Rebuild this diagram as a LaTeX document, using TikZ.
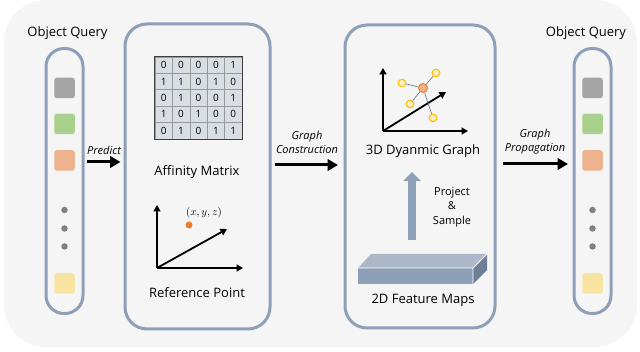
\documentclass[tikz,border=0pt]{standalone}
\usepackage{fontspec}
\setmainfont{Open Sans}
\usepackage{xcolor}
\usepackage{tikz}
\usetikzlibrary{arrows.meta,calc}

\definecolor{bgc}{HTML}{F5F5F5}
\definecolor{pnl}{HTML}{8EA0B8}
\definecolor{qgray}{HTML}{A5A5A5}
\definecolor{qgreen}{HTML}{A9D18E}
\definecolor{qorange}{HTML}{EDB38F}
\definecolor{qyellow}{HTML}{F8E3A0}
\definecolor{cellc}{HTML}{D9DEE4}
\definecolor{ptorange}{HTML}{ED7D31}
\definecolor{nodey}{HTML}{FFC000}
\definecolor{nodeyf}{HTML}{FFF2CC}
\definecolor{slabtopc}{HTML}{ACB8C9}
\definecolor{slabfrontc}{HTML}{8D9FB7}
\definecolor{slabsidec}{HTML}{6E7F96}

\tikzset{
  panel/.style={draw=pnl, line width=3pt, fill=bgc, rounded corners=22pt},
  column/.style={draw=pnl, line width=3pt, fill=bgc, rounded corners=18pt,
    minimum width=37pt, minimum height=265pt},
  qbox/.style={fill=#1, rounded corners=2.5pt, minimum size=20.5pt, inner sep=0pt},
  qdot/.style={fill=black!50, circle, minimum size=6.5pt, inner sep=0pt},
  cell/.style={draw=black!40, fill=cellc, line width=0.6pt, inner sep=0pt,
    minimum width=17.4pt, minimum height=16.4pt, font=\fontsize{10}{10}\selectfont},
  flow/.style={-{Triangle[length=10.5pt,width=11.5pt]}, line width=3pt},
  axis/.style={-{Triangle[length=6.5pt,width=7pt]}, line width=1.8pt},
  lift/.style={-{Triangle[length=9pt,width=17pt]}, line width=7.5pt, draw=pnl},
  gnode/.style={circle, draw=nodey, fill=nodeyf, line width=1.2pt, minimum size=7.5pt, inner sep=0pt},
  lbl/.style={font=\fontsize{13}{15}\selectfont},
  ital/.style={font=\fontsize{11}{14}\selectfont\itshape, align=center},
}

\begin{document}
\begin{tikzpicture}[x=1pt, y=-1pt]
    \useasboundingbox (0,0) rectangle (640,352);
    \fill[bgc, rounded corners=42pt] (4,0) rectangle (637,347);

    % object queries
    \foreach \c/\x in {col1/64.5, col2/592.5} {
        \node[column] (\c) at (\x,181) {};
        \node[qbox=qgray] (\c-a) at (\x,88) {};
        \node[qbox=qgreen] (\c-b) at (\x,124) {};
        \node[qbox=qorange] (\c-c) at (\x,160.5) {};
        \node[qdot] (\c-d1) at (\x,210) {};
        \node[qdot] (\c-d2) at (\x,228.5) {};
        \node[qdot] (\c-d3) at (\x,246.5) {};
        \node[qbox=qyellow] (\c-e) at (\x,283.5) {};
    }
    \node[lbl] (oq1) at (67.5,33) {Object Query};
    \node[lbl] (oq2) at (586,33) {Object Query};

    \node[panel, minimum width=145pt, minimum height=305pt] (box2) at (197.5,176.5) {};
    \node[panel, minimum width=150pt, minimum height=303pt] (box3) at (420,176.5) {};

    % affinity matrix
    \foreach \row [count=\i] in {{0,0,0,0,1},{1,1,0,1,0},{0,1,0,0,1},{1,0,1,0,0},{0,1,0,1,1}} {
        \foreach \v [count=\j] in \row {
            \node[cell] (m-\i-\j) at ({155+17.4*(\j-0.5)},{57+16.4*(\i-0.5)}) {\v};
        }
    }
    \draw[line width=1.2pt, black!75] (m-1-1.north west) rectangle (m-5-5.south east);
    \node[lbl] (afflbl) at (197,172) {Affinity Matrix};

    % reference point
    \coordinate (ro) at (157,268);
    \draw[axis] (ro) -- ++(0,-63);
    \draw[axis] (ro) -- ++(86,0);
    \draw[axis] (ro) -- ++(70,-39);
    \node[circle, fill=ptorange, minimum size=7pt, inner sep=0pt] (refpt) at (189,225) {};
    \node[font=\fontsize{10.5}{12}\selectfont] (xyz) at (204,213) {$(x,y,z)$};
    \node[lbl] (reflbl) at (197,293) {Reference Point};

    % dynamic graph
    \coordinate (go) at (383,131);
    \draw[axis] (go) -- ++(0,-63);
    \draw[axis] (go) -- ++(85,0);
    \draw[axis] (go) -- ++(63,-39);
    \node[circle, draw=ptorange, fill=qorange, line width=1pt, minimum size=9pt, inner sep=0pt] (gc) at (423,88) {};
    \node[gnode] (g1) at (402,83) {};
    \node[gnode] (g2) at (436,73) {};
    \node[gnode] (g3) at (410,104) {};
    \node[gnode] (g4) at (433,118) {};
    \foreach \n in {g1,g2,g3,g4}
        \draw[pnl!80!black, line width=0.7pt] (gc) -- (\n);
    \node[lbl] (glbl) at (423,151) {3D Dyanmic Graph};

    % feature maps
    \fill[slabtopc] (358,268) -- (371,254) -- (487,254) -- (473,268) -- cycle;
    \fill[slabfrontc] (358,268) rectangle (473,284);
    \fill[slabsidec] (473,268) -- (487,254) -- (487,270) -- (473,284) -- cycle;
    \draw[white, line width=0.8pt] (358,268) -- (473,268) -- (487,254) (473,268) -- (473,284);
    \coordinate (slabtop) at (412,254);
    \node[lbl] (fmlbl) at (423,300) {2D Feature Maps};
    \draw[lift, shorten <=14pt, shorten >=11pt] (slabtop) -- (slabtop |- glbl.south);
    \node[align=center, font=\fontsize{11}{14.5}\selectfont] (pslbl) at (452,207) {Project\\\&\\Sample};

    % arrows between stages
    \path (0,162) coordinate (lvA) (0,165) coordinate (lvB) (0,164) coordinate (lvC);
    \draw[flow, shorten <=2.5pt, shorten >=3pt] (col1.east |- lvA) -- (box2.west |- lvA);
    \draw[flow, shorten <=3.5pt, shorten >=5.5pt] (box2.east |- lvB) -- (box3.west |- lvB);
    \draw[flow, shorten <=6.5pt, shorten >=4.5pt] (box3.east |- lvC) -- (col2.west |- lvC);
    \node[ital] (predlbl) at (104,150) {Predict};
    \node[ital] (gclbl) at (307,142) {Graph\\Construction};
    \node[ital] (gplbl) at (535,142) {Graph\\Propagation};
\end{tikzpicture}
\end{document}
